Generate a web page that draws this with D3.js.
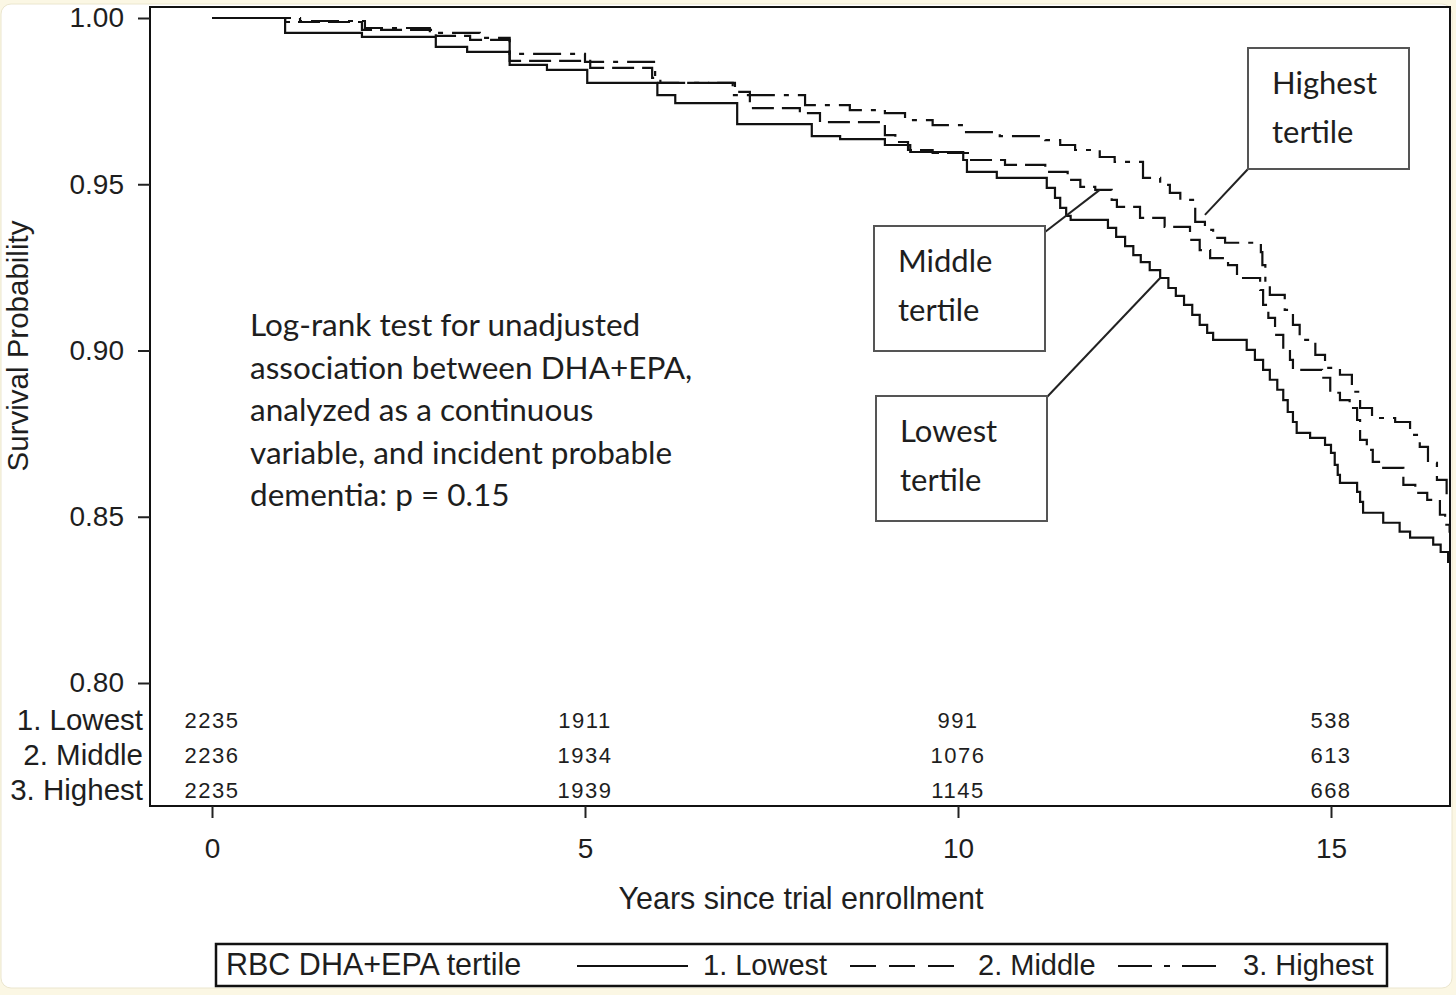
<!DOCTYPE html>
<html>
<head>
<meta charset="utf-8">
<script src="https://cdn.jsdelivr.net/npm/d3@7"></script>
<style>
  html, body { margin: 0; padding: 0; background: #fbf7e4; }
  svg { display: block; }
</style>
</head>
<body>
<svg id="chart" width="1456" height="995"></svg>
<script>
// survival steps: [years, survival]
var lowest = [[0,1],[0.98,0.9955],[2.01,0.9943],[3.00,0.9913],[3.42,0.9898],[3.99,0.9859],[4.49,0.9844],[5.03,0.9805],
  [5.97,0.9768],[6.21,0.9744],[7.04,0.9681],[8.04,0.9645],[8.42,0.9636],[9.02,0.9618],[9.36,0.9597],[10.07,0.9573],
  [10.12,0.9537],[10.52,0.9519],[11.19,0.9489],[11.30,0.9459],[11.37,0.9429],[11.45,0.9405],[11.51,0.9393],[12.01,0.9369],
  [12.12,0.9342],[12.24,0.9314],[12.35,0.9287],[12.45,0.9266],[12.57,0.9242],[12.71,0.9218],[12.82,0.9188],[12.92,0.9164],
  [13.03,0.9137],[13.14,0.9107],[13.24,0.9077],[13.34,0.9053],[13.42,0.9032],[13.87,0.9002],[13.98,0.8972],[14.09,0.8942],
  [14.18,0.8912],[14.28,0.8882],[14.36,0.8851],[14.42,0.8815],[14.49,0.8785],[14.54,0.8752],[14.72,0.8737],[14.92,0.8716],
  [15.00,0.8692],[15.05,0.8656],[15.09,0.8626],[15.12,0.8602],[15.35,0.8575],[15.39,0.8545],[15.43,0.8512],[15.70,0.8482],
  [15.92,0.8455],[16.06,0.8437],[16.37,0.8416],[16.47,0.8394],[16.57,0.8364]]
var middle = [[0,1],[0.98,0.9988],[2.01,0.9964],[3.00,0.9946],[3.46,0.9934],[3.99,0.9871],[5.07,0.9850],[5.90,0.9820],
  [6.01,0.9805],[7.01,0.9778],[7.21,0.9729],[7.88,0.9714],[8.15,0.9687],[9.02,0.9648],[9.16,0.9627],[9.33,0.9603],
  [9.66,0.9594],[10.16,0.9573],[10.63,0.9558],[11.17,0.9537],[11.47,0.9513],[11.64,0.9492],[11.84,0.9483],[12.06,0.9453],
  [12.13,0.9432],[12.44,0.9399],[12.77,0.9372],[13.11,0.9333],[13.24,0.9302],[13.38,0.9278],[13.62,0.9257],[13.74,0.9218],
  [14.05,0.9182],[14.09,0.9137],[14.16,0.9098],[14.25,0.9047],[14.36,0.9002],[14.45,0.8972],[14.49,0.8942],[14.88,0.8918],
  [14.99,0.8873],[15.12,0.8851],[15.25,0.8827],[15.35,0.8791],[15.39,0.8731],[15.48,0.8701],[15.56,0.8665],[15.68,0.8647],
  [15.97,0.8596],[16.13,0.8572],[16.29,0.8551],[16.46,0.8506],[16.53,0.8476],[16.59,0.8455]]
var highest = [[0,1],[1.18,0.9991],[2.05,0.9970],[2.92,0.9955],[3.59,0.9940],[3.99,0.9892],[5.00,0.9868],[5.94,0.9805],
  [6.98,0.9768],[7.95,0.9738],[8.55,0.9723],[9.02,0.9714],[9.29,0.9693],[9.66,0.9678],[10.07,0.9657],[10.56,0.9645],
  [11.17,0.9633],[11.37,0.9618],[11.57,0.9603],[11.90,0.9582],[12.10,0.9567],[12.48,0.9519],[12.71,0.9498],[12.84,0.9474],
  [12.98,0.9453],[13.18,0.9387],[13.31,0.9363],[13.42,0.9339],[13.58,0.9324],[14.06,0.9296],[14.08,0.9257],[14.12,0.9206],
  [14.18,0.9167],[14.38,0.9122],[14.49,0.9077],[14.58,0.9032],[14.79,0.8987],[14.92,0.8948],[15.12,0.8927],[15.28,0.8876],
  [15.39,0.8827],[15.55,0.8797],[15.86,0.8785],[16.06,0.8746],[16.19,0.8710],[16.30,0.8662],[16.42,0.8611],[16.55,0.8566]]

var groupNames = ['1. Lowest', '2. Middle', '3. Highest']
var atRiskTimes = [0, 5, 10, 15]
var atRiskLowest = [2235, 1911, 991, 538]
var atRiskMiddle = [2236, 1934, 1076, 613]
var atRiskHighest = [2235, 1939, 1145, 668]
var yTicks = [0.80, 0.85, 0.90, 0.95, 1.00]
var xTicks = [0, 5, 10, 15]

var noteLines = ['Log-rank test for unadjusted', 'association between DHA+EPA,', 'analyzed as a continuous',
  'variable, and incident probable', 'dementia: p = 0.15']

var sasFont = '"Liberation Sans", Arial, sans-serif'
var noteFont = 'Lato, "Open Sans", sans-serif'
var ink = '#1e1e1e'

var svg = d3.select('#chart')

// white panel on the cream page
svg.append('rect').attr('x', 1).attr('y', 4).attr('width', 1451).attr('height', 984)
  .attr('rx', 10).attr('fill', '#fff').attr('stroke', '#ebe6cf')

var x = d3.scaleLinear().domain([0, 15]).range([212, 1331])
var y = d3.scaleLinear().domain([0.80, 1.00]).range([683, 18])
var frame = {left: 150, right: 1450, top: 7, bottom: 806}
var tEnd = x.invert(frame.right)

svg.append('clipPath').attr('id', 'plotclip').append('rect')
  .attr('x', frame.left).attr('y', frame.top)
  .attr('width', frame.right - frame.left).attr('height', frame.bottom - frame.top)

var line = d3.line().x(function(d){ return x(d[0]) }).y(function(d){ return y(d[1]) }).curve(d3.curveStepAfter)

var series = [
  {data: lowest, dash: null},
  {data: middle, dash: '22,8'},
  {data: highest, dash: '28,9,5,9'}
]

var curves = svg.append('g').attr('clip-path', 'url(#plotclip)')
series.forEach(function(s){
  var pts = s.data.concat([[tEnd, s.data[s.data.length - 1][1]]])
  curves.append('path').datum(pts)
    .attr('d', line)
    .attr('fill', 'none')
    .attr('stroke', '#111')
    .attr('stroke-width', 2.2)
    .attr('stroke-dasharray', s.dash)
})

// frame
svg.append('rect').attr('x', frame.left).attr('y', frame.top)
  .attr('width', frame.right - frame.left).attr('height', frame.bottom - frame.top)
  .attr('fill', 'none').attr('stroke', '#111').attr('stroke-width', 2)

// y axis
var yAxis = svg.append('g').attr('transform', 'translate(' + frame.left + ',0)')
  .call(d3.axisLeft(y).tickValues(yTicks).tickFormat(d3.format('.2f')).tickSize(12).tickPadding(14))
yAxis.select('.domain').remove()
yAxis.selectAll('line').attr('stroke', '#222').attr('stroke-width', 2)
yAxis.selectAll('text').attr('font-family', sasFont).attr('font-size', 28).attr('fill', ink)

// x axis
var xAxis = svg.append('g').attr('transform', 'translate(0,' + frame.bottom + ')')
  .call(d3.axisBottom(x).tickValues(xTicks).tickSize(12).tickPadding(20))
xAxis.select('.domain').remove()
xAxis.selectAll('line').attr('stroke', '#222').attr('stroke-width', 2)
xAxis.selectAll('text').attr('font-family', sasFont).attr('font-size', 28).attr('fill', ink)

svg.append('text').attr('x', 801).attr('y', 909).attr('text-anchor', 'middle')
  .attr('font-family', sasFont).attr('font-size', 30.5).attr('fill', ink)
  .text('Years since trial enrollment')

svg.append('text').attr('transform', 'translate(28,346) rotate(-90)').attr('text-anchor', 'middle')
  .attr('font-family', sasFont).attr('font-size', 29.5).attr('fill', ink)
  .text('Survival Probability')

// numbers at risk
var atRiskRows = [atRiskLowest, atRiskMiddle, atRiskHighest]
var rowY = [720, 755, 790]
atRiskRows.forEach(function(row, i){
  svg.append('text').attr('x', 143).attr('y', rowY[i] + 10).attr('text-anchor', 'end')
    .attr('font-family', sasFont).attr('font-size', 29.5).attr('fill', ink)
    .text(groupNames[i])
  svg.append('g').selectAll('text').data(row).enter().append('text')
    .attr('x', function(d, j){ return x(atRiskTimes[j]) })
    .attr('y', rowY[i] + 8)
    .attr('text-anchor', 'middle')
    .attr('font-family', sasFont).attr('font-size', 22).attr('letter-spacing', 1.5)
    .attr('fill', ink)
    .text(function(d){ return d })
})

// log-rank note
var note = svg.append('text').attr('font-family', noteFont).attr('font-size', 31.5).attr('fill', ink)
note.selectAll('tspan').data(noteLines).enter().append('tspan')
  .attr('x', 250).attr('y', function(d, i){ return 336 + i * 42.5 })
  .text(function(d){ return d })

// labelled boxes with pointer lines (pointer ends)
var labels = [
  {x: 1248, y: 48, w: 161, h: 121, lines: ['Highest', 'tertile'], from: [1248, 169], to: [13.31, 0.9408]},
  {x: 874, y: 226, w: 171, h: 125, lines: ['Middle', 'tertile'], from: [1045, 232], to: [11.90, 0.9483]},
  {x: 876, y: 396, w: 171, h: 125, lines: ['Lowest', 'tertile'], from: [1047, 397], to: [12.71, 0.9218]}
]
labels.forEach(function(l){
  svg.append('line').attr('x1', l.from[0]).attr('y1', l.from[1])
    .attr('x2', x(l.to[0])).attr('y2', y(l.to[1]))
    .attr('stroke', '#222').attr('stroke-width', 2)
  svg.append('rect').attr('x', l.x).attr('y', l.y).attr('width', l.w).attr('height', l.h)
    .attr('fill', '#fff').attr('stroke', '#555').attr('stroke-width', 2)
  l.lines.forEach(function(t, i){
    svg.append('text').attr('x', l.x + 24).attr('y', l.y + 46 + i * 49)
      .attr('font-family', noteFont).attr('font-size', 31).attr('fill', ink).text(t)
  })
})

// legend
var lg = svg.append('g')
lg.append('rect').attr('x', 216).attr('y', 944).attr('width', 1171).attr('height', 42)
  .attr('fill', '#fff').attr('stroke', '#111').attr('stroke-width', 2.5)
lg.append('text').attr('x', 226).attr('y', 975).attr('font-family', sasFont).attr('font-size', 30.5)
  .attr('fill', ink).text('RBC DHA+EPA tertile')
var legendItems = [
  {x1: 577, x2: 688, tx: 703, dash: null},
  {x1: 850, x2: 956, tx: 978, dash: '26,13'},
  {x1: 1118, x2: 1226, tx: 1243, dash: '34,12,6,12'}
]
legendItems.forEach(function(it, i){
  lg.append('line').attr('x1', it.x1).attr('x2', it.x2).attr('y1', 966).attr('y2', 966)
    .attr('stroke', '#111').attr('stroke-width', 2.2).attr('stroke-dasharray', it.dash)
  lg.append('text').attr('x', it.tx).attr('y', 975).attr('font-family', sasFont).attr('font-size', 29)
    .attr('fill', ink).text(groupNames[i])
})
</script>
</body>
</html>
